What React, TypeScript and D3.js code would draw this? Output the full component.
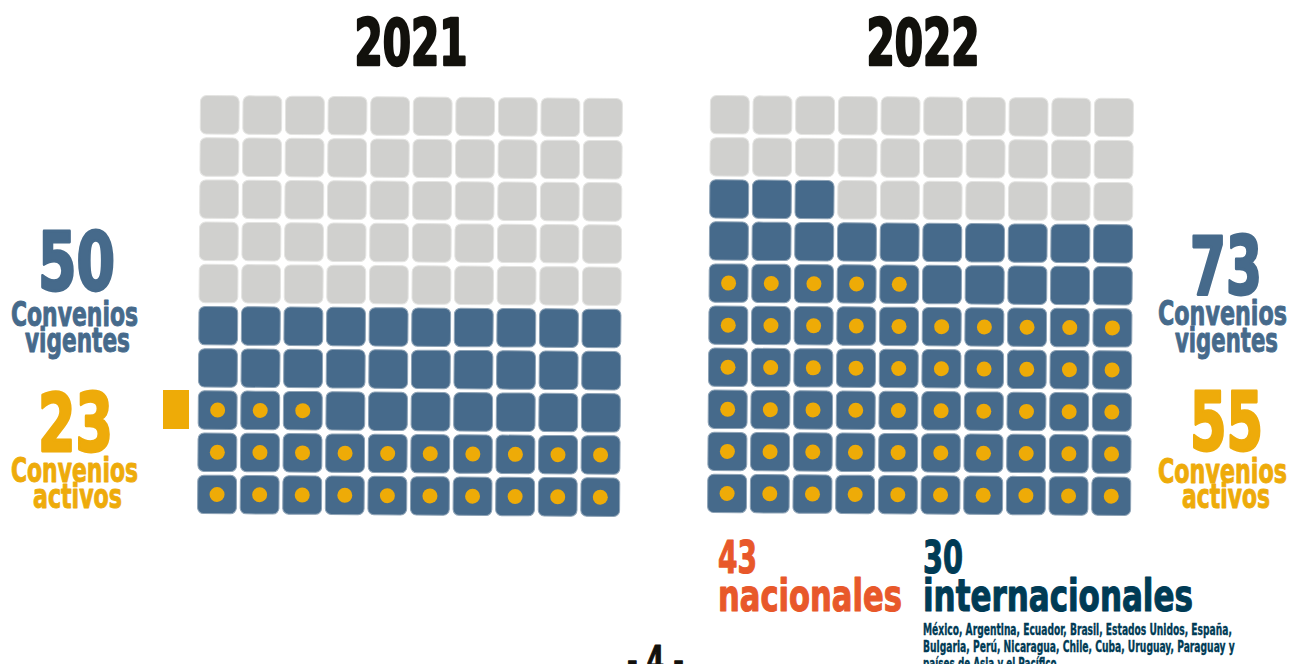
import React, { useLayoutEffect, useRef } from "react";
import * as d3 from "d3";

const years = ["2021", "2022"];
const vigentes = [50, 73];
const activos = [23, 55];
const nacionales = 43;
const internacionales = 30;
const countryLines = [
  "México, Argentina, Ecuador, Brasil, Estados Unidos, España,",
  "Bulgaria, Perú, Nicaragua, Chile, Cuba, Uruguay, Paraguay y",
  "países de Asia y el Pacífico.",
];
const countryWidths = [309, 312, 137];
const cells = d3.range(100);
const cols = d3.range(10);
const rows = d3.range(10);

const GRAY = "#d0d0ce";
const BLUE = "#466a8b";
const DOT = "#eeab07";
const ORANGE_TXT = "#eeab0a";
const RED_TXT = "#e8582a";
const DARK_TXT = "#003b55";
const FONT = "'DejaVu Sans Condensed', 'Liberation Sans Narrow', 'Roboto', sans-serif";

const grids = [
  { x0: 199, x1: 621, y0: 97, y1: 515, title: 411 },
  { x0: 709, x1: 1132, y0: 97, y1: 514, title: 923 },
];

function Waffle({ idx }: { idx: number }) {
  const g = grids[idx];
  const x = d3.scaleBand<number>().domain(cols).range([g.x0, g.x1]).paddingInner(0.09);
  const y = d3.scaleBand<number>().domain(rows).range([g.y0, g.y1]).paddingInner(0.09);
  const cx = (g.x0 + g.x1) / 2;
  const cy = (g.y0 + g.y1) / 2;
  return (
    <g transform={`rotate(0.4 ${cx} ${cy})`}>
      {cells.map((i) => {
        const col = i % 10;
        const row = 9 - Math.floor(i / 10);
        const filled = i < vigentes[idx];
        const active = i < activos[idx];
        const px = x(col)!;
        const py = y(row)!;
        return (
          <g key={i}>
            <rect
              x={px}
              y={py}
              width={x.bandwidth()}
              height={y.bandwidth()}
              rx={6}
              fill={filled ? BLUE : GRAY}
              stroke={filled ? "#8ea3b6" : "#e4e4e2"}
              strokeWidth={1}
            />
            {active && (
              <circle cx={px + x.bandwidth() / 2} cy={py + y.bandwidth() / 2} r={7.5} fill={DOT} />
            )}
          </g>
        );
      })}
    </g>
  );
}

function T(props: {
  x: number;
  y: number;
  w: number;
  size: number;
  fill: string;
  sw?: number;
  anchor?: string;
  children: React.ReactNode;
}) {
  return (
    <text
      className="fit"
      data-x={props.x}
      data-y={props.y}
      data-w={props.w}
      transform={`translate(${props.x},${props.y})`}
      fontSize={props.size}
      fill={props.fill}
      stroke={props.fill}
      strokeWidth={props.sw ?? 0.8}
      vectorEffect="non-scaling-stroke"
      strokeLinejoin="round"
      fontFamily={FONT}
      fontWeight="bold"
      textAnchor={props.anchor || "middle"}
    >
      {props.children}
    </text>
  );
}

export default function App() {
  const ref = useRef<SVGSVGElement>(null);
  useLayoutEffect(() => {
    if (!ref.current) return;
    d3.select(ref.current)
      .selectAll<SVGTextElement, unknown>("text.fit")
      .each(function () {
        const el = this;
        const w = +el.getAttribute("data-w")!;
        const x = +el.getAttribute("data-x")!;
        const y = +el.getAttribute("data-y")!;
        const nat = el.getComputedTextLength();
        const s = nat > 0 ? w / nat : 1;
        el.setAttribute("transform", `translate(${x},${y}) scale(${s},1)`);
      });
  }, []);

  return (
    <svg
      ref={ref}
      width={1291}
      height={664}
      style={{ position: "absolute", left: 0, top: 0, display: "block", background: "#fff" }}
    >
      <rect x={0} y={0} width={1291} height={664} fill="#fff" />
      {years.map((yr, i) => (
        <T key={yr} x={grids[i].title} y={65} w={113} size={64} fill="#12110c" sw={2.2}>
          {yr}
        </T>
      ))}
      <Waffle idx={0} />
      <Waffle idx={1} />

      {/* orange marker */}
      <rect x={163} y={390} width={26} height={39} fill={DOT} />

      {/* left labels */}
      <T x={76.5} y={290} w={77} size={80} fill={BLUE} sw={2.5}>{String(vigentes[0])}</T>
      <T x={74.5} y={326} w={127} size={33} fill={BLUE}>Convenios</T>
      <T x={77.5} y={352} w={105} size={33} fill={BLUE}>vigentes</T>
      <T x={75.5} y={451} w={75} size={80} fill={ORANGE_TXT} sw={2.5}>{String(activos[0])}</T>
      <T x={74.5} y={482} w={127} size={33} fill={ORANGE_TXT}>Convenios</T>
      <T x={77.5} y={508} w={89} size={33} fill={ORANGE_TXT}>activos</T>

      {/* right labels */}
      <T x={1226} y={294} w={72} size={80} fill={BLUE} sw={2.5}>{String(vigentes[1])}</T>
      <T x={1222.5} y={325} w={129} size={33} fill={BLUE}>Convenios</T>
      <T x={1226.5} y={352} w={103} size={33} fill={BLUE}>vigentes</T>
      <T x={1226.5} y={450} w={73} size={80} fill={ORANGE_TXT} sw={2.5}>{String(activos[1])}</T>
      <T x={1222.5} y={483} w={129} size={33} fill={ORANGE_TXT}>Convenios</T>
      <T x={1226} y={508} w={88} size={33} fill={ORANGE_TXT}>activos</T>

      {/* bottom breakdown */}
      <T x={718} y={573} w={39} size={45} fill={RED_TXT} anchor="start" sw={1}>{String(nacionales)}</T>
      <T x={718} y={611} w={184} size={45} fill={RED_TXT} anchor="start" sw={1}>nacionales</T>
      <T x={923} y={573} w={40} size={45} fill={DARK_TXT} anchor="start" sw={1}>{String(internacionales)}</T>
      <T x={923} y={611} w={270} size={45} fill={DARK_TXT} anchor="start" sw={1}>internacionales</T>
      {countryLines.map((l, i) => (
        <T key={i} x={923} y={635 + i * 17} w={countryWidths[i]} size={15.5} fill={DARK_TXT} anchor="start" sw={0.3}>
          {l}
        </T>
      ))}

      {/* page number */}
      <T x={655.5} y={676} w={57} size={42} fill="#12110c" sw={1}>- 4 -</T>
    </svg>
  );
}
